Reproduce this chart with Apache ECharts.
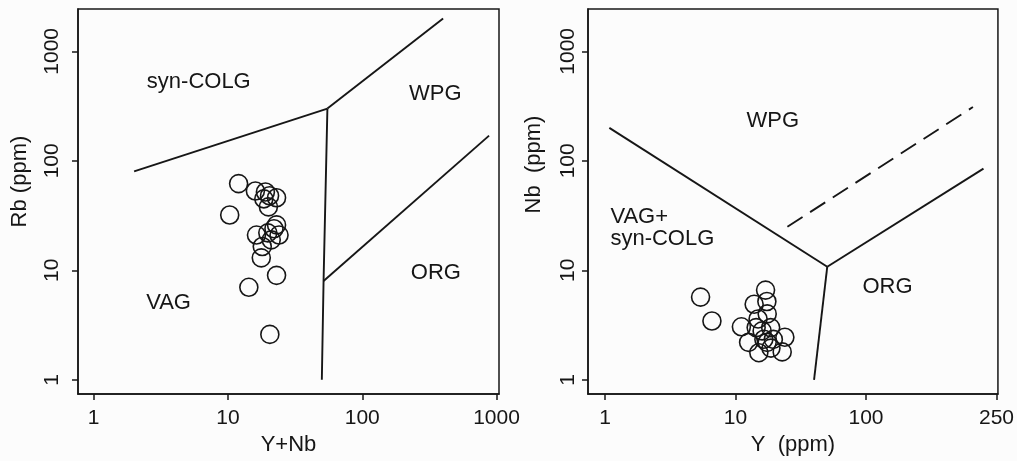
<!DOCTYPE html>
<html><head><meta charset="utf-8">
<script src="https://cdn.jsdelivr.net/npm/echarts@6/dist/echarts.min.js"></script>
<style>html,body{margin:0;padding:0;background:#fcfcfc}#c{width:1017px;height:461px}</style>
</head><body><div id="c"></div>
<script>
// ---- Left panel: Rb vs Y+Nb ----
const leftPoints = [[12,62],[10.3,32],[16,53],[19,52],[20.4,48],[23,46],[20,38],[18.5,45],[23,26],[16.3,21],[19.8,22],[22,24],[24,21],[21,19],[18,16.5],[17.7,13],[23,9],[14.3,7],[20.5,2.6]];
const leftLineColg = [[2,80],[55,300]];
const leftLineWpg = [[55,300],[400,2000]];
const leftLineVertical = [[55,300],[51.5,8],[50,1]];
const leftLineOrg = [[51.5,8],[880,170]];
const leftLabels = [["syn-COLG",6.06,521],["WPG",350,412],["ORG",353,9.47],["VAG",3.61,5.06]];
const leftXTicks = [1,10,100,1000];
const leftXTickLabels = ["1","10","100","1000"];
const leftYTicks = [1,10,100,1000];
const leftYTickLabels = ["1","10","100","1000"];

// ---- Right panel: Nb vs Y ----
const rightPoints = [[5.4,5.7],[6.6,3.45],[17,6.6],[13.9,4.9],[17.4,5.2],[17.5,4.0],[14.9,3.6],[11.1,3.05],[14.4,3.0],[18.6,3.0],[12.6,2.2],[16.5,2.35],[19.5,2.34],[23.9,2.45],[15.1,1.77],[18.7,1.95],[22.8,1.8],[16,2.8],[17.5,2.2]];
const rightLineVag = [[1.08,200],[50.5,10.8]];
const rightLineVertical = [[50.5,10.8],[40,1]];
const rightLineOrg = [[50.5,10.8],[795,85]];
const rightLineDashed = [[25,25],[660,310]];
const rightLabels = [["WPG",19.3,232],["ORG",146,7.1]];
const rightLabelsLeftAligned = [["VAG+\nsyn-COLG",1.1,24.5]];
const rightXTicks = [1,10,100,1000];
const rightXTickLabels = ["1","10","100","250"];
const rightYTicks = [1,10,100,1000];
const rightYTickLabels = ["1","10","100","1000"];

const FONT = '"Liberation Sans", Arial, sans-serif';
const INK = '#161616';

function logAxis(gridIndex, min, max, ticks, labels, name, gap, margin, isY, namePad) {
  return {
    type: 'log', logBase: 10, gridIndex, min, max,
    name, nameLocation: 'middle', nameGap: gap,
    nameRotate: isY ? 90 : 0,
    nameTextStyle: { fontFamily: FONT, fontSize: 22, color: INK, padding: namePad || 0 },
    axisLine: { show: true, onZero: false, lineStyle: { color: INK, width: 1.5 } },
    axisTick: { show: true, length: 6, customValues: ticks, lineStyle: { color: INK, width: 1.5 } },
    minorTick: { show: false },
    splitLine: { show: false },
    axisLabel: {
      customValues: ticks, margin, rotate: isY ? 90 : 0,
      fontFamily: FONT, fontSize: 21, color: INK,
      formatter: v => { const i = ticks.findIndex(t => Math.abs(Math.log10(t) - Math.log10(v)) < 1e-6); return i >= 0 ? labels[i] : ''; }
    }
  };
}

function lineSeries(data, xi, dashed) {
  return { type: 'line', xAxisIndex: xi, yAxisIndex: xi, data, showSymbol: false, symbol: 'none',
    lineStyle: { color: INK, width: 1.9, type: dashed ? [18, 9] : 'solid' }, silent: true, z: 3 };
}
function pointSeries(data, xi) {
  return { type: 'scatter', xAxisIndex: xi, yAxisIndex: xi, data, symbol: 'circle', symbolSize: 18,
    itemStyle: { color: 'rgba(0,0,0,0)', borderColor: INK, borderWidth: 1.6, opacity: 1 }, z: 4 };
}
function labelSeries(items, xi, align) {
  return { type: 'scatter', xAxisIndex: xi, yAxisIndex: xi, symbolSize: 0, silent: true,
    itemStyle: { opacity: 1 },
    data: items.map(d => ({ value: [d[1], d[2]], name: d[0] })),
    label: { show: true, position: 'inside', formatter: p => p.name, align: align || 'center', verticalAlign: 'middle',
      fontFamily: FONT, fontSize: 22, color: INK, lineHeight: 22, opacity: 1 } };
}

const chart = echarts.init(document.getElementById('c'));
chart.setOption({
  backgroundColor: '#fcfcfc',
  animation: false,
  grid: [
    { left: 78, top: 9, width: 421, height: 388, show: true, borderColor: INK, borderWidth: 1.5, backgroundColor: 'transparent' },
    { left: 588, top: 9, width: 425, height: 388, show: true, borderColor: INK, borderWidth: 1.5, backgroundColor: 'transparent' }
  ],
  xAxis: [
    logAxis(0, 0.764, 1043, leftXTicks, leftXTickLabels, 'Y+Nb', 38, 14, false),
    logAxis(1, 0.741, 1026, rightXTicks, rightXTickLabels, 'Y  (ppm)', 38, 14, false)
  ],
  yAxis: [
    logAxis(0, 0.741, 2437, leftYTicks, leftYTickLabels, 'Rb (ppm)', 47, 15, true, [0,0,0,40]),
    logAxis(1, 0.741, 2437, rightYTicks, rightYTickLabels, 'Nb  (ppm)', 43, 9, true, [0,0,0,74])
  ],
  series: [
    lineSeries(leftLineColg, 0), lineSeries(leftLineWpg, 0), lineSeries(leftLineVertical, 0), lineSeries(leftLineOrg, 0),
    pointSeries(leftPoints, 0), labelSeries(leftLabels, 0),
    lineSeries(rightLineVag, 1), lineSeries(rightLineVertical, 1), lineSeries(rightLineOrg, 1), lineSeries(rightLineDashed, 1, true),
    pointSeries(rightPoints, 1), labelSeries(rightLabels, 1), labelSeries(rightLabelsLeftAligned, 1, 'left')
  ]
});
</script></body></html>
